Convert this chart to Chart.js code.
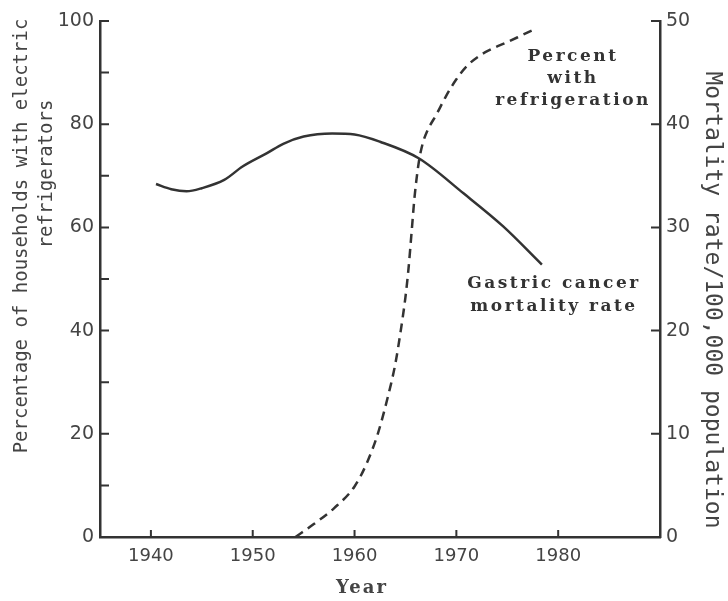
<!DOCTYPE html>
<html>
<head>
<meta charset="utf-8">
<script src="https://cdn.jsdelivr.net/npm/chart.js@4.4.0/dist/chart.umd.min.js"></script>
<style>
  html, body { margin: 0; padding: 0; background: #fff; }
  #wrap { width: 728px; height: 601px; }
</style>
</head>
<body>
<div id="wrap"><canvas id="mycanvas" width="728" height="601"></canvas></div>
<script>
// percent of households with electric refrigerators (left axis)
var refrigYears = [1954.2, 1956, 1958, 1960, 1961.2, 1962.3, 1963.2, 1964, 1964.5, 1965, 1965.3, 1965.6, 1965.9, 1966.3, 1966.7, 1967.1, 1968.1, 1969, 1970, 1971, 1972.3, 1973.6, 1975, 1976.5, 1977.9];
var refrigPct   = [0, 2.5, 5.6, 9.8, 14.3, 20.1, 26.6, 33.5, 39.5, 46.5, 52, 59, 66, 72.5, 76.3, 78.5, 82.1, 85.5, 88.7, 91.2, 93.3, 94.7, 95.9, 97.3, 98.6];

// gastric cancer mortality rate per 100,000 (right axis)
var mortYears = [1940.5, 1942, 1943.5, 1945, 1947.2, 1949, 1951.4, 1953, 1955, 1957.8, 1960, 1962.5, 1966.3, 1970.7, 1974.6, 1978.4];
var mortRate  = [34.2, 33.7, 33.5, 33.8, 34.6, 35.9, 37.2, 38.1, 38.8, 39.1, 39, 38.3, 36.7, 33.3, 30.1, 26.4];

// axes
var yearTicks  = [1940, 1950, 1960, 1970, 1980];
var pctTicks   = [0, 10, 20, 30, 40, 50, 60, 70, 80, 90, 100];
var pctLabels  = [0, 20, 40, 60, 80, 100];
var mortTicks  = [0, 10, 20, 30, 40, 50];

var ink = '#333';
var textInk = '#444';

function pts(xs, ys) {
	var out = [];
	for (var i = 0; i < xs.length; i++) out.push({x: xs[i], y: ys[i]});
	return out;
}

// ticks drawn inward like the printed figure
var inwardTicks = {
	id: 'inwardTicks',
	afterDatasetsDraw: function(chart) {
		var ctx = chart.ctx, a = chart.chartArea, s = chart.scales;
		ctx.save();
		ctx.strokeStyle = ink;
		ctx.lineWidth = 2;
		ctx.beginPath();
		s.y.ticks.forEach(function(t) {
			var y = s.y.getPixelForValue(t.value);
			ctx.moveTo(a.left, y); ctx.lineTo(a.left + 9, y);
		});
		s.y2.ticks.forEach(function(t) {
			var y = s.y2.getPixelForValue(t.value);
			if (t.value > 0) { ctx.moveTo(a.right, y); ctx.lineTo(a.right - 9, y); }
		});
		s.x.ticks.forEach(function(t) {
			var x = s.x.getPixelForValue(t.value);
			ctx.moveTo(x, a.bottom); ctx.lineTo(x, a.bottom - 7);
		});
		ctx.stroke();
		ctx.restore();
	}
};

var labels = {
	id: 'labels',
	afterDraw: function(chart) {
		var ctx = chart.ctx;
		ctx.save();
		ctx.fillStyle = textInk;
		ctx.textAlign = 'center';
		ctx.textBaseline = 'middle';

		// left axis title (two lines, rotated)
		ctx.save();
		ctx.font = '19px "DejaVu Sans Mono"';
		ctx.translate(22, 236);
		ctx.rotate(-Math.PI / 2);
		ctx.fillText('Percentage of households with electric', 0, 0);
		ctx.restore();
		ctx.save();
		ctx.font = '19px "DejaVu Sans Mono"';
		ctx.translate(47, 174);
		ctx.rotate(-Math.PI / 2);
		ctx.fillText('refrigerators', 0, 0);
		ctx.restore();

		// right axis title
		ctx.save();
		ctx.font = '23px "DejaVu Sans Mono"';
		ctx.translate(712, 300);
		ctx.rotate(Math.PI / 2);
		ctx.fillText('Mortality rate/100,000 population', 0, 0);
		ctx.restore();

		// x axis title
		ctx.font = 'bold 18px "DejaVu Serif"';
		ctx.letterSpacing = '2px';
		ctx.fillText('Year', 362, 588);

		// curve labels
		ctx.fillStyle = ink;
		ctx.font = 'bold 17px "DejaVu Serif"';
		ctx.letterSpacing = '2.5px';
		ctx.fillText('Percent', 573, 57);
		ctx.fillText('with', 573, 79);
		ctx.fillText('refrigeration', 573, 101);
		ctx.fillText('Gastric cancer', 554, 284);
		ctx.fillText('mortality rate', 554, 307);
		ctx.restore();
	}
};

var ctx = document.getElementById('mycanvas');

var chart = new Chart(ctx, {
	type: 'line',
	data: {
		datasets: [
			{
				label: 'Percent with refrigeration',
				data: pts(refrigYears, refrigPct),
				yAxisID: 'y',
				borderColor: ink,
				borderWidth: 2.5,
				borderDash: [9, 6],
				pointRadius: 0,
				fill: false,
				cubicInterpolationMode: 'monotone'
			},
			{
				label: 'Gastric cancer mortality rate',
				data: pts(mortYears, mortRate),
				yAxisID: 'y2',
				borderColor: ink,
				borderWidth: 2.5,
				pointRadius: 0,
				fill: false,
				cubicInterpolationMode: 'monotone'
			}
		]
	},
	options: {
		responsive: false,
		animation: false,
		layout: { padding: { top: 21, left: 0, right: 0, bottom: 0 } },
		plugins: { legend: { display: false }, tooltip: { enabled: false } },
		scales: {
			x: {
				type: 'linear',
				min: 1935,
				max: 1990,
				afterBuildTicks: function(s) { s.ticks = yearTicks.map(function(v) { return {value: v}; }); },
				afterFit: function(s) { s.height = 64; },
				grid: { drawOnChartArea: false, drawTicks: false },
				border: { color: ink, width: 2.5 },
				ticks: {
					color: textInk,
					padding: 9,
					maxRotation: 0,
					font: { family: '"DejaVu Sans"', size: 18 },
					callback: function(v) { return String(v); }
				}
			},
			y: {
				position: 'left',
				min: 0,
				max: 100,
				afterBuildTicks: function(s) { s.ticks = pctTicks.map(function(v) { return {value: v}; }); },
				afterFit: function(s) { s.width = 100; },
				grid: { drawOnChartArea: false, drawTicks: false },
				border: { color: ink, width: 2.5 },
				ticks: {
					color: textInk,
					padding: 6,
					font: { family: '"DejaVu Sans"', size: 19 },
					callback: function(v) { return pctLabels.indexOf(v) >= 0 ? String(v) : ''; }
				}
			},
			y2: {
				position: 'right',
				min: 0,
				max: 50,
				afterBuildTicks: function(s) { s.ticks = mortTicks.map(function(v) { return {value: v}; }); },
				afterFit: function(s) { s.width = 68; },
				grid: { drawOnChartArea: false, drawTicks: false },
				border: { color: ink, width: 2.5 },
				ticks: {
					color: textInk,
					padding: 6,
					font: { family: '"DejaVu Sans"', size: 19 },
					callback: function(v) { return String(v); }
				}
			}
		}
	},
	plugins: [inwardTicks, labels]
});
</script>
</body>
</html>
